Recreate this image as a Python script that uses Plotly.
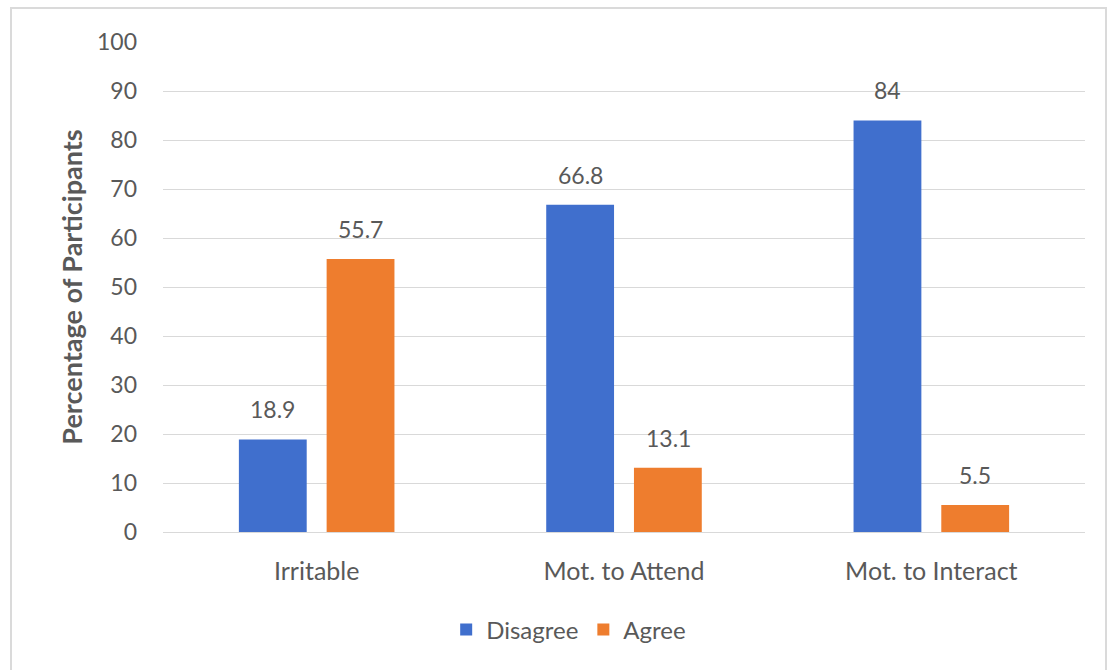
import plotly.graph_objects as go

categories = ["Irritable", "Mot. to Attend", "Mot. to Interact"]
disagree = [18.9, 66.8, 84]
agree = [55.7, 13.1, 5.5]
y_ticks = list(range(0, 101, 10))

BLUE = "#406FCD"
ORANGE = "#EE7D2E"
TEXT = "#595959"
FONT = "Lato, 'Open Sans', sans-serif"

fig = go.Figure()
fig.add_trace(go.Bar(name="Disagree", x=categories, y=disagree, marker_color=BLUE,
                     marker_line_width=0))
fig.add_trace(go.Bar(name="Agree", x=categories, y=agree, marker_color=ORANGE,
                     marker_line_width=0))

# value labels above each bar, shifted to the bar's slot within its group
slot_px = 44
for vals, shift in ((disagree, -slot_px), (agree, slot_px)):
    for cat, v in zip(categories, vals):
        fig.add_annotation(x=cat, y=v, text=f"{v:g}", showarrow=False,
                           xshift=shift, yshift=30,
                           font=dict(family=FONT, size=23, color=TEXT))

# light frame around the whole chart
fig.add_shape(type="rect", xref="paper", yref="paper",
              x0=(11 - 163) / 922, x1=(1106 - 163) / 922,
              y0=(532 - 675) / 490, y1=(532 - 8) / 490,
              line=dict(color="#DADADA", width=2), layer="below")

fig.update_layout(
    width=1112, height=670,
    margin=dict(l=163, r=27, t=42, b=138),
    paper_bgcolor="white", plot_bgcolor="white",
    barmode="group", bargap=0.429, bargroupgap=0.227,
    font=dict(family=FONT, size=23, color=TEXT),
    legend=dict(orientation="h", x=0.44, xanchor="center", y=-0.2, yanchor="middle",
                font=dict(family=FONT, size=24, color=TEXT), itemwidth=30,
                traceorder="normal"),
    xaxis=dict(showgrid=False, showline=True, linecolor="#D9D9D9", linewidth=1,
               ticks="", tickfont=dict(size=25, color=TEXT), ticklabelstandoff=17),
    yaxis=dict(range=[0, 100], tickvals=y_ticks, showgrid=True, gridcolor="#D9D9D9",
               gridwidth=1, zeroline=False, showline=False, ticks="",
               tickfont=dict(size=23, color=TEXT), ticklabelstandoff=25,
               title=dict(text="<b>Percentage of Participants</b>",
                          font=dict(size=27, color=TEXT), standoff=6)),
    showlegend=True,
)

fig.write_html("out.html")
